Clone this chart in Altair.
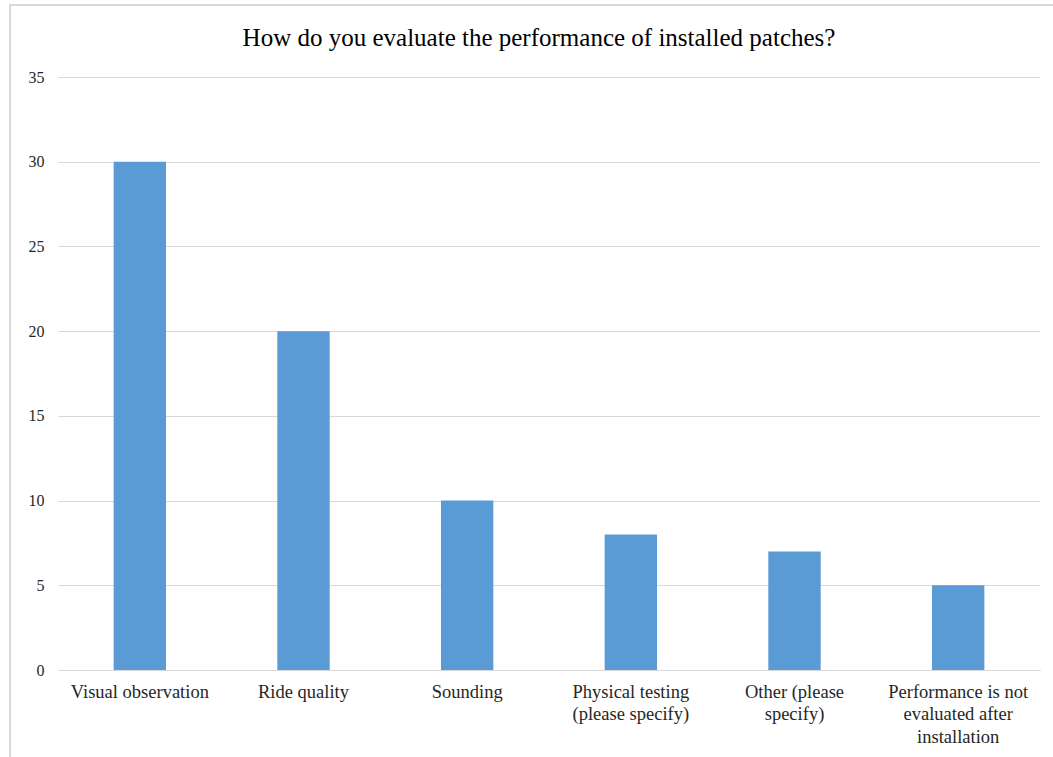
import altair as alt
import pandas as pd

categories = [
    "Visual observation",
    "Ride quality",
    "Sounding",
    "Physical testing\n(please specify)",
    "Other (please\nspecify)",
    "Performance is not\nevaluated after\ninstallation",
]
values = [30, 20, 10, 8, 7, 5]
title_text = ["How do you evaluate the performance of installed patches?"]

df = pd.DataFrame({"cat": categories, "val": values})
tdf = pd.DataFrame({"t": title_text})

W, H = 982, 593
L, T = 58, 77
SERIF = "Liberation Serif, serif"

bars = alt.Chart(df).mark_bar(color="#5B9BD5").encode(
    x=alt.X(
        "cat:N",
        sort=categories,
        title=None,
        scale=alt.Scale(paddingInner=0.68, paddingOuter=0.34),
        axis=alt.Axis(
            labelExpr="split(datum.label, '\\n')",
            labelAngle=0,
            labelFont=SERIF,
            labelFontSize=18.5,
            labelColor="#262626",
            labelLineHeight=22.5,
            labelPadding=12,
            ticks=False,
            domainColor="#d9d9d9",
            domainWidth=1,
            labelBaseline="top",
            grid=False,
        ),
    ),
    y=alt.Y(
        "val:Q",
        title=None,
        scale=alt.Scale(domain=[0, 35]),
        axis=alt.Axis(
            values=[0, 5, 10, 15, 20, 25, 30, 35],
            labelFont=SERIF,
            labelFontSize=16,
            labelColor="#262626",
            labelPadding=14,
            ticks=False,
            domain=False,
            gridColor="#d9d9d9",
            gridWidth=1,
        ),
    ),
)

title = alt.Chart(tdf).mark_text(
    font=SERIF, fontSize=25, color="#000000", align="center", baseline="middle"
).encode(
    text="t:N",
    x=alt.value(539 - L),
    y=alt.value(38 - T),
)

border = alt.Chart(df).mark_rect(fill=None, stroke="#d9d9d9", strokeWidth=2).encode(
    x=alt.value(10 - L), x2=alt.value(1060 - L),
    y=alt.value(5 - T), y2=alt.value(760 - T),
)

chart = alt.layer(bars, title, border).properties(
    width=W,
    height=H,
    background="white",
    autosize=alt.AutoSizeParams(type="none"),
    padding={"left": L, "top": T, "right": 1053 - L - W, "bottom": 757 - T - H},
).configure_view(strokeWidth=0, stroke="transparent")

chart.save("out.html", embed_options={"renderer": "svg", "actions": False})
